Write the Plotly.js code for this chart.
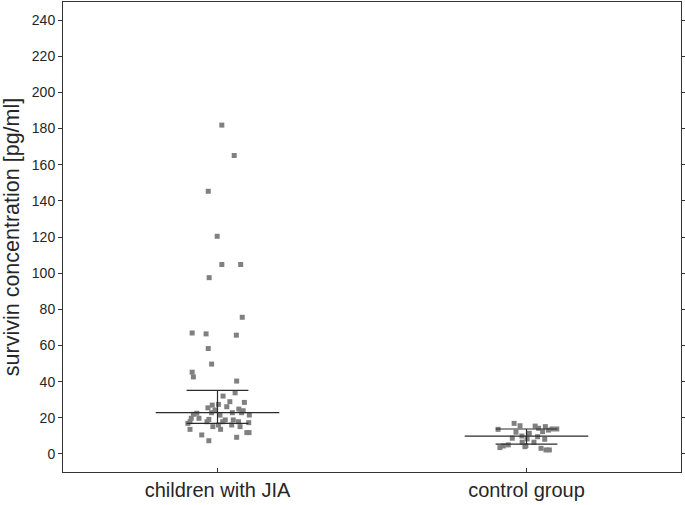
<!DOCTYPE html>
<html>
<head>
<meta charset="utf-8">
<script src="https://cdn.plot.ly/plotly-3.0.1.min.js"></script>
<style>html,body{margin:0;padding:0;background:#fff;}#chart{width:685px;height:505px;}</style>
</head>
<body>
<div id="chart"></div>
<script>
// Categories
const categories = ["children with JIA", "control group"];

// Survivin concentration values [pg/ml]
const jiaValues = [181.9,165.1,145.3,120.4,104.8,104.8,97.5,75.6,66.9,66.4,65.7,58.3,49.7,45.2,42.6,40.3,
  33.8,32.0,28.9,27.0,28.5,27.4,25.5,26.1,24.3,24.8,23.9,22.8,22.5,21.9,22.8,22.8,21.5,21.5,
  19.7,19.7,19.1,18.8,18.8,17.8,17.8,17.8,17.8,16.9,17.3,16.0,15.1,16.0,15.1,13.6,13.6,11.8,11.8,10.5,9.2,7.3];
// Horizontal jitter of each JIA point (offset from category centre)
const jiaJitter = [0.014,0.054,-0.030,-0.001,0.014,0.075,-0.027,0.080,-0.082,-0.037,0.061,-0.030,-0.019,-0.082,-0.078,0.062,
  0.057,0.018,0.040,-0.017,0.087,0.003,-0.031,0.030,-0.008,0.069,0.083,-0.019,-0.067,-0.078,0.048,0.078,0.008,0.103,
  -0.085,-0.060,-0.028,0.025,0.051,-0.089,0.017,0.068,-0.034,-0.096,0.101,0.003,-0.015,0.046,0.073,-0.089,0.010,0.095,0.102,-0.051,0.062,-0.028];

const controlValues = [13.6,16.9,15.6,12.0,15.4,14.2,15.1,12.3,13.2,13.8,13.8,11.4,9.5,8.1,8.7,9.9,6.5,4.6,6.5,3.5,4.4,5.0,4.0,3.1,2.2,2.2,8.3];
const controlJitter = [-0.092,-0.040,-0.021,-0.034,0.028,0.039,0.061,0.052,0.071,0.083,0.098,0.009,0.036,0.059,-0.046,-0.015,-0.014,-0.002,0.024,-0.086,-0.075,-0.059,-0.005,0.047,0.063,0.074,0.002];

// Median and interquartile range per group
const medians = [22.8, 9.9];
const q1 = [16.9, 5.4];
const q3 = [35.1, 13.8];

// Y axis ticks
const yTicks = [0,20,40,60,80,100,120,140,160,180,200,220,240];

const lineColor = "#2b2b2b";
const traces = [];
const groups = [[jiaValues, jiaJitter], [controlValues, controlJitter]];
groups.forEach((g, i) => {
  traces.push({
    type: "scatter", mode: "markers",
    x: g[1].map(d => i + d), y: g[0],
    marker: {symbol: "square", size: 5, color: "#808080"},
    hoverinfo: "y", showlegend: false
  });
});
categories.forEach((c, i) => {
  // median line
  traces.push({type: "scatter", mode: "lines", x: [i - 0.2, i + 0.2], y: [medians[i], medians[i]],
    line: {color: lineColor, width: 1.2}, showlegend: false, hoverinfo: "skip"});
  // IQR whiskers
  traces.push({type: "scatter", mode: "lines",
    x: [i - 0.1, i + 0.1, null, i - 0.1, i + 0.1, null, i, i],
    y: [q3[i], q3[i], null, q1[i], q1[i], null, q1[i], q3[i]],
    line: {color: lineColor, width: 1.2}, showlegend: false, hoverinfo: "skip", connectgaps: false});
});

const layout = {
  width: 685, height: 505,
  margin: {l: 63, r: 4, t: 2, b: 33},
  paper_bgcolor: "#fff", plot_bgcolor: "#fff",
  font: {family: "Liberation Sans, Arial, sans-serif", color: "#262626"},
  showlegend: false,
  xaxis: {
    range: [-0.5, 1.5], tickvals: [0, 1], ticktext: categories,
    ticks: "inside", ticklen: 4, tickcolor: "#333",
    showline: true, linecolor: "#333", linewidth: 1, mirror: true,
    showgrid: false, zeroline: false,
    tickfont: {size: 20, color: "#262626"}
  },
  yaxis: {
    range: [-10, 250], tickvals: yTicks,
    ticks: "outside", ticklen: 4, tickcolor: "#333",
    showline: true, linecolor: "#333", linewidth: 1, mirror: "ticks",
    showgrid: false, zeroline: false,
    tickfont: {size: 14, color: "#262626"},
    title: {text: "survivin concentration [pg/ml]", font: {size: 21.5, color: "#262626"}, standoff: 7}
  }
};
Plotly.newPlot("chart", traces, layout, {staticPlot: true});
</script>
</body>
</html>
